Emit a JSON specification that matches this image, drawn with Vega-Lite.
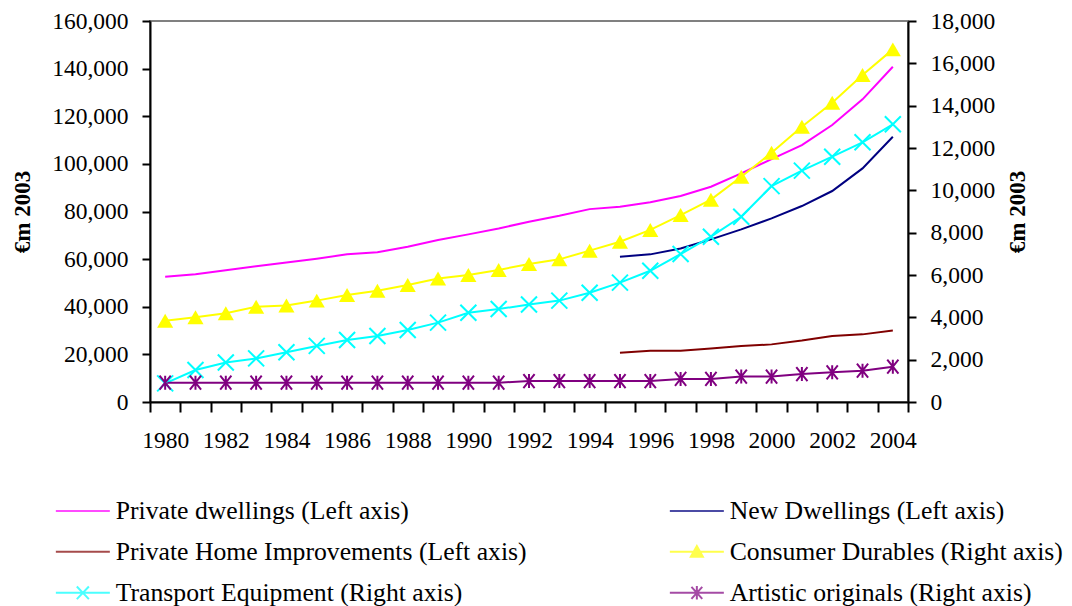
{
  "$schema": "https://vega.github.io/schema/vega-lite/v6.json",
  "autosize": {"type": "none"},
  "padding": {"left": 150, "top": 21, "right": 164, "bottom": 204},
  "width": 758,
  "height": 381,
  "background": "white",
  "config": {
    "view": {"stroke": "#808080", "strokeWidth": 2},
    "font": "Liberation Serif"
  },
  "data": {"values": [
    {"year": 1980, "series": "Private dwellings (Left axis)", "value": 52600},
    {"year": 1981, "series": "Private dwellings (Left axis)", "value": 53600},
    {"year": 1982, "series": "Private dwellings (Left axis)", "value": 55300},
    {"year": 1983, "series": "Private dwellings (Left axis)", "value": 57000},
    {"year": 1984, "series": "Private dwellings (Left axis)", "value": 58600},
    {"year": 1985, "series": "Private dwellings (Left axis)", "value": 60200},
    {"year": 1986, "series": "Private dwellings (Left axis)", "value": 62000},
    {"year": 1987, "series": "Private dwellings (Left axis)", "value": 62900},
    {"year": 1988, "series": "Private dwellings (Left axis)", "value": 65200},
    {"year": 1989, "series": "Private dwellings (Left axis)", "value": 68000},
    {"year": 1990, "series": "Private dwellings (Left axis)", "value": 70400},
    {"year": 1991, "series": "Private dwellings (Left axis)", "value": 72900},
    {"year": 1992, "series": "Private dwellings (Left axis)", "value": 75700},
    {"year": 1993, "series": "Private dwellings (Left axis)", "value": 78200},
    {"year": 1994, "series": "Private dwellings (Left axis)", "value": 81000},
    {"year": 1995, "series": "Private dwellings (Left axis)", "value": 82000},
    {"year": 1996, "series": "Private dwellings (Left axis)", "value": 83900},
    {"year": 1997, "series": "Private dwellings (Left axis)", "value": 86500},
    {"year": 1998, "series": "Private dwellings (Left axis)", "value": 90400},
    {"year": 1999, "series": "Private dwellings (Left axis)", "value": 96000},
    {"year": 2000, "series": "Private dwellings (Left axis)", "value": 102000},
    {"year": 2001, "series": "Private dwellings (Left axis)", "value": 107900},
    {"year": 2002, "series": "Private dwellings (Left axis)", "value": 116300},
    {"year": 2003, "series": "Private dwellings (Left axis)", "value": 127100},
    {"year": 2004, "series": "Private dwellings (Left axis)", "value": 140800},
    {"year": 1995, "series": "New Dwellings (Left axis)", "value": 61000},
    {"year": 1996, "series": "New Dwellings (Left axis)", "value": 62000},
    {"year": 1997, "series": "New Dwellings (Left axis)", "value": 64500},
    {"year": 1998, "series": "New Dwellings (Left axis)", "value": 68300},
    {"year": 1999, "series": "New Dwellings (Left axis)", "value": 72500},
    {"year": 2000, "series": "New Dwellings (Left axis)", "value": 77100},
    {"year": 2001, "series": "New Dwellings (Left axis)", "value": 82300},
    {"year": 2002, "series": "New Dwellings (Left axis)", "value": 88600},
    {"year": 2003, "series": "New Dwellings (Left axis)", "value": 98100},
    {"year": 2004, "series": "New Dwellings (Left axis)", "value": 111400},
    {"year": 1995, "series": "Private Home Improvements (Left axis)", "value": 20700},
    {"year": 1996, "series": "Private Home Improvements (Left axis)", "value": 21500},
    {"year": 1997, "series": "Private Home Improvements (Left axis)", "value": 21500},
    {"year": 1998, "series": "Private Home Improvements (Left axis)", "value": 22500},
    {"year": 1999, "series": "Private Home Improvements (Left axis)", "value": 23500},
    {"year": 2000, "series": "Private Home Improvements (Left axis)", "value": 24200},
    {"year": 2001, "series": "Private Home Improvements (Left axis)", "value": 25800},
    {"year": 2002, "series": "Private Home Improvements (Left axis)", "value": 27700},
    {"year": 2003, "series": "Private Home Improvements (Left axis)", "value": 28400},
    {"year": 2004, "series": "Private Home Improvements (Left axis)", "value": 30000},
    {"year": 1980, "series": "Consumer Durables (Right axis)", "value": 3840},
    {"year": 1981, "series": "Consumer Durables (Right axis)", "value": 4000},
    {"year": 1982, "series": "Consumer Durables (Right axis)", "value": 4190},
    {"year": 1983, "series": "Consumer Durables (Right axis)", "value": 4500},
    {"year": 1984, "series": "Consumer Durables (Right axis)", "value": 4560},
    {"year": 1985, "series": "Consumer Durables (Right axis)", "value": 4790},
    {"year": 1986, "series": "Consumer Durables (Right axis)", "value": 5060},
    {"year": 1987, "series": "Consumer Durables (Right axis)", "value": 5260},
    {"year": 1988, "series": "Consumer Durables (Right axis)", "value": 5530},
    {"year": 1989, "series": "Consumer Durables (Right axis)", "value": 5830},
    {"year": 1990, "series": "Consumer Durables (Right axis)", "value": 6000},
    {"year": 1991, "series": "Consumer Durables (Right axis)", "value": 6240},
    {"year": 1992, "series": "Consumer Durables (Right axis)", "value": 6520},
    {"year": 1993, "series": "Consumer Durables (Right axis)", "value": 6740},
    {"year": 1994, "series": "Consumer Durables (Right axis)", "value": 7150},
    {"year": 1995, "series": "Consumer Durables (Right axis)", "value": 7570},
    {"year": 1996, "series": "Consumer Durables (Right axis)", "value": 8130},
    {"year": 1997, "series": "Consumer Durables (Right axis)", "value": 8830},
    {"year": 1998, "series": "Consumer Durables (Right axis)", "value": 9560},
    {"year": 1999, "series": "Consumer Durables (Right axis)", "value": 10640},
    {"year": 2000, "series": "Consumer Durables (Right axis)", "value": 11780},
    {"year": 2001, "series": "Consumer Durables (Right axis)", "value": 13000},
    {"year": 2002, "series": "Consumer Durables (Right axis)", "value": 14140},
    {"year": 2003, "series": "Consumer Durables (Right axis)", "value": 15450},
    {"year": 2004, "series": "Consumer Durables (Right axis)", "value": 16660},
    {"year": 1980, "series": "Transport Equipment (Right axis)", "value": 880},
    {"year": 1981, "series": "Transport Equipment (Right axis)", "value": 1510},
    {"year": 1982, "series": "Transport Equipment (Right axis)", "value": 1870},
    {"year": 1983, "series": "Transport Equipment (Right axis)", "value": 2060},
    {"year": 1984, "series": "Transport Equipment (Right axis)", "value": 2350},
    {"year": 1985, "series": "Transport Equipment (Right axis)", "value": 2650},
    {"year": 1986, "series": "Transport Equipment (Right axis)", "value": 2930},
    {"year": 1987, "series": "Transport Equipment (Right axis)", "value": 3120},
    {"year": 1988, "series": "Transport Equipment (Right axis)", "value": 3400},
    {"year": 1989, "series": "Transport Equipment (Right axis)", "value": 3750},
    {"year": 1990, "series": "Transport Equipment (Right axis)", "value": 4220},
    {"year": 1991, "series": "Transport Equipment (Right axis)", "value": 4390},
    {"year": 1992, "series": "Transport Equipment (Right axis)", "value": 4610},
    {"year": 1993, "series": "Transport Equipment (Right axis)", "value": 4790},
    {"year": 1994, "series": "Transport Equipment (Right axis)", "value": 5160},
    {"year": 1995, "series": "Transport Equipment (Right axis)", "value": 5640},
    {"year": 1996, "series": "Transport Equipment (Right axis)", "value": 6200},
    {"year": 1997, "series": "Transport Equipment (Right axis)", "value": 6990},
    {"year": 1998, "series": "Transport Equipment (Right axis)", "value": 7810},
    {"year": 1999, "series": "Transport Equipment (Right axis)", "value": 8750},
    {"year": 2000, "series": "Transport Equipment (Right axis)", "value": 10200},
    {"year": 2001, "series": "Transport Equipment (Right axis)", "value": 10930},
    {"year": 2002, "series": "Transport Equipment (Right axis)", "value": 11590},
    {"year": 2003, "series": "Transport Equipment (Right axis)", "value": 12270},
    {"year": 2004, "series": "Transport Equipment (Right axis)", "value": 13120},
    {"year": 1980, "series": "Artistic originals (Right axis)", "value": 910},
    {"year": 1981, "series": "Artistic originals (Right axis)", "value": 910},
    {"year": 1982, "series": "Artistic originals (Right axis)", "value": 910},
    {"year": 1983, "series": "Artistic originals (Right axis)", "value": 910},
    {"year": 1984, "series": "Artistic originals (Right axis)", "value": 910},
    {"year": 1985, "series": "Artistic originals (Right axis)", "value": 910},
    {"year": 1986, "series": "Artistic originals (Right axis)", "value": 910},
    {"year": 1987, "series": "Artistic originals (Right axis)", "value": 910},
    {"year": 1988, "series": "Artistic originals (Right axis)", "value": 910},
    {"year": 1989, "series": "Artistic originals (Right axis)", "value": 910},
    {"year": 1990, "series": "Artistic originals (Right axis)", "value": 910},
    {"year": 1991, "series": "Artistic originals (Right axis)", "value": 910},
    {"year": 1992, "series": "Artistic originals (Right axis)", "value": 990},
    {"year": 1993, "series": "Artistic originals (Right axis)", "value": 990},
    {"year": 1994, "series": "Artistic originals (Right axis)", "value": 990},
    {"year": 1995, "series": "Artistic originals (Right axis)", "value": 990},
    {"year": 1996, "series": "Artistic originals (Right axis)", "value": 990},
    {"year": 1997, "series": "Artistic originals (Right axis)", "value": 1090},
    {"year": 1998, "series": "Artistic originals (Right axis)", "value": 1090},
    {"year": 1999, "series": "Artistic originals (Right axis)", "value": 1200},
    {"year": 2000, "series": "Artistic originals (Right axis)", "value": 1200},
    {"year": 2001, "series": "Artistic originals (Right axis)", "value": 1320},
    {"year": 2002, "series": "Artistic originals (Right axis)", "value": 1400},
    {"year": 2003, "series": "Artistic originals (Right axis)", "value": 1480},
    {"year": 2004, "series": "Artistic originals (Right axis)", "value": 1670}
  ]},
  "encoding": {
    "x": {
      "field": "year", "type": "ordinal", "bandPosition": 0.5,
      "scale": {"type": "band", "paddingInner": 0, "paddingOuter": 0},
      "axis": {"title": null, "grid": false, "tickBand": "extent", "labelAngle": 0, "labelOverlap": false, "labelExpr": "datum.value % 2 == 0 ? datum.label : ''", "labelFont": "Liberation Serif", "labelFontSize": 23.5, "labelColor": "black", "domainColor": "black", "domainWidth": 2, "tickColor": "black", "tickWidth": 2, "tickSize": 10, "labelPadding": 16, "encode": {"ticks": {"update": {"y": {"value": -5}}}}}
    }
  },
  "layer": [
    {
      "encoding": {
        "y": {"field": "value", "type": "quantitative", "scale": {"domain": [0, 160000], "nice": false, "zero": true},
          "axis": {"orient": "left", "grid": false, "values": [0, 20000, 40000, 60000, 80000, 100000, 120000, 140000, 160000], "format": ",.0f", "labelFont": "Liberation Serif", "labelFontSize": 23.5, "labelColor": "black", "domainColor": "black", "domainWidth": 2, "tickColor": "black", "tickWidth": 2, "title": "€m 2003", "titleFont": "Liberation Serif", "titleColor": "black", "titleFontWeight": "bold", "titleFontSize": 23, "titleAngle": 270, "titlePadding": 17, "tickSize": 8, "labelPadding": 14, "encode": {"ticks": {"update": {"x": {"value": 8}}}}}}
      },
      "layer": [
        {
          "transform": [{"filter": {"field": "series", "oneOf": ["Private dwellings (Left axis)", "New Dwellings (Left axis)", "Private Home Improvements (Left axis)"]}}],
          "mark": {"type": "line", "strokeWidth": 2},
          "encoding": {"stroke": {"field": "series", "type": "nominal", "legend": null,
            "scale": {"domain": ["Artistic originals (Right axis)", "Transport Equipment (Right axis)", "Consumer Durables (Right axis)", "Private Home Improvements (Left axis)", "New Dwellings (Left axis)", "Private dwellings (Left axis)"], "range": ["#800080", "#00FFFF", "#FFFF00", "#800000", "#000080", "#FF00FF"]}}}
        },
        {
          "mark": {"type": "point", "size": 0, "filled": false, "strokeWidth": 2},
          "encoding": {
            "color": {"field": "series", "type": "nominal",
              "scale": {"domain": ["Private dwellings (Left axis)", "New Dwellings (Left axis)", "Private Home Improvements (Left axis)", "Consumer Durables (Right axis)", "Transport Equipment (Right axis)", "Artistic originals (Right axis)"], "range": ["#FF00FF", "#000080", "#800000", "#FFFF00", "#00FFFF", "#800080"]},
              "legend": {"orient": "none", "legendX": -94, "legendY": 477, "direction": "horizontal", "columns": 2, "title": null, "labelFont": "Liberation Serif", "labelFontSize": 25.7, "labelColor": "black", "labelLimit": 800, "symbolSize": 324, "symbolStrokeWidth": 2, "symbolFillColor": "#FFFF00", "symbolOffset": 14, "labelOffset": 20, "rowPadding": 14, "columnPadding": 138, "padding": 0,
                "encode": {"symbols": {"update": {"fill": {"value": "#FFFF00"}, "stroke": {"scale": "color", "field": "value"}, "opacity": {"value": 1}, "size": {"value": 324}, "strokeWidth": {"value": 2}}}}}},
            "shape": {"field": "series", "type": "nominal",
              "scale": {"domain": ["Private dwellings (Left axis)", "New Dwellings (Left axis)", "Private Home Improvements (Left axis)", "Consumer Durables (Right axis)", "Transport Equipment (Right axis)", "Artistic originals (Right axis)"], "range": ["M-3,0H3", "M-3,0H3", "M-3,0H3", "M-3,0H3M-0.67,0.55L0,-0.65L0.67,0.55ZM-0.335,0.354L0,-0.246L0.335,0.354ZM-0.1,0.216L0,0.036L0.1,0.216ZM0,-0.5V0.5", "M-3,0H3M-0.67,-0.7L0.67,0.7M-0.67,0.7L0.67,-0.7", "M-3,0H3M-0.6,-0.67L0.6,0.67M-0.6,0.67L0.6,-0.67M0,-0.75V0.75"]}}
          }
        }
      ]
    },
    {
      "transform": [{"filter": {"field": "series", "oneOf": ["Consumer Durables (Right axis)", "Transport Equipment (Right axis)", "Artistic originals (Right axis)"]}}],
      "encoding": {
        "y": {"field": "value", "type": "quantitative", "scale": {"domain": [0, 18000], "nice": false, "zero": true},
          "axis": {"orient": "right", "grid": false, "values": [0, 2000, 4000, 6000, 8000, 10000, 12000, 14000, 16000, 18000], "format": ",.0f", "labelFont": "Liberation Serif", "labelFontSize": 23.5, "labelColor": "black", "domainColor": "black", "domainWidth": 2, "tickColor": "black", "tickWidth": 2, "title": "€m 2003", "titleFont": "Liberation Serif", "titleColor": "black", "titleFontWeight": "bold", "titleFontSize": 23, "titleAngle": 270, "titlePadding": 35, "tickSize": 8, "labelPadding": 14, "encode": {"ticks": {"update": {"x": {"value": -8}}}}}}
      },
      "layer": [
        {"mark": {"type": "line", "strokeWidth": 2}, "encoding": {"stroke": {"field": "series", "type": "nominal", "legend": null}}},
        {"transform": [{"filter": "datum.series == 'Consumer Durables (Right axis)'"}], "mark": {"type": "point", "shape": "triangle-up", "filled": true, "fill": "#FFFF00", "opacity": 1, "size": 260}},
        {"transform": [{"filter": "datum.series == 'Transport Equipment (Right axis)'"}], "mark": {"type": "point", "shape": "M-1,-1L1,1M-1,1L1,-1", "filled": false, "stroke": "#00FFFF", "opacity": 1, "size": 256, "strokeWidth": 2}},
        {"transform": [{"filter": "datum.series == 'Artistic originals (Right axis)'"}], "mark": {"type": "point", "shape": "M-0.8,-1L0.8,1M-0.8,1L0.8,-1M0,-1V1", "filled": false, "stroke": "#800080", "opacity": 1, "size": 196, "strokeWidth": 2}}
      ]
    }
  ],
  "resolve": {"scale": {"y": "independent"}}
}
